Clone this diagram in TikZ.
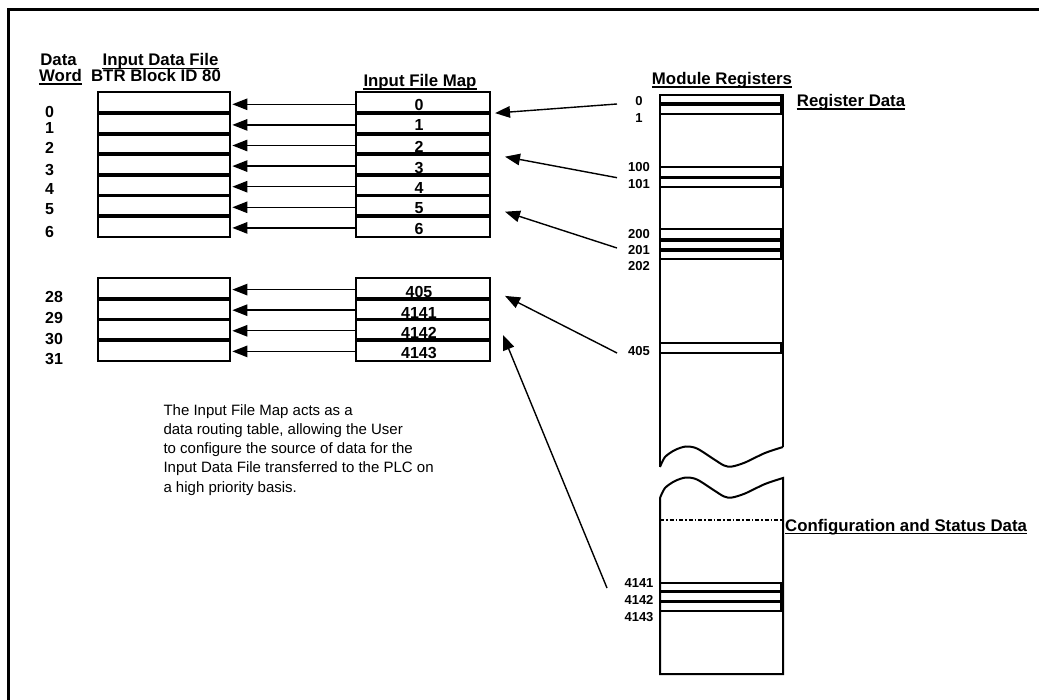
\documentclass[tikz,border=0pt]{standalone}
\usepackage{fontspec}
\setmainfont{Liberation Sans}
\usetikzlibrary{arrows.meta,calc}
\begin{document}
\begin{tikzpicture}[x=1pt,y=-1pt,
  rowbox/.style={draw, line width=2pt, minimum width=132pt, minimum height=20.6pt, inner sep=0pt, outer sep=0pt},
  mapbox/.style={rowbox, minimum width=134pt},
  divider/.style={line width=3.8pt},
  regdiv/.style={line width=3.4pt},
  arr/.style={line width=1.4pt, -{Triangle[length=15pt,width=11.5pt]}},
  hdr/.style={font=\fontsize{16.8}{20}\selectfont\bfseries, inner sep=0pt},
  ul/.style={line width=1.5pt},
  num/.style={font=\fontsize{16}{18}\selectfont\bfseries, inner sep=0pt},
  regnum/.style={font=\fontsize{13}{15}\selectfont\bfseries, inner sep=0pt},
  regbox/.style={draw, line width=1.8pt, minimum width=123pt, inner sep=0pt, outer sep=0pt},
  col/.style={line width=2pt},
]
\useasboundingbox (0,0) rectangle (1039,700);
% frame
\draw[line width=2.2pt] (8.5,700) -- (8.5,9.5) -- (1039,9.5);

% headers
\node[hdr, anchor=base] (hData) at (58.5,66) {Data};
\node[hdr, anchor=base] (hWord) at (60.5,81.5) {Word};
\node[hdr, anchor=base] (hIDF) at (160.5,66) {Input Data File};
\node[hdr, anchor=base] (hBTR) at (156,81.5) {BTR Block ID 80};
\node[hdr, anchor=base] (hMap) at (420,86.5) {Input File Map};
\node[hdr, anchor=base] (hMod) at (722,84.5) {Module Registers};
\node[hdr, anchor=base west] (hReg) at (796.7,106.5) {Register Data};
\node[hdr, anchor=base west] (hCfg) at (785,531) {Configuration and Status Data};
\foreach \n in {hWord,hIDF,hMap,hMod,hReg,hCfg} {
  \draw[ul] ([yshift=-2.6pt]\n.base west) -- ([yshift=-2.6pt]\n.base east);
}

% input data file rows and map rows (upper group)
\foreach \i in {0,...,6} {
  \node[rowbox] (idf\i) at (163.9,{92.5+20.6*(\i+0.5)}) {};
  \node[mapbox] (map\i) at (423,{92.5+20.6*(\i+0.5)}) {};
}
\foreach \i in {0,...,5} {
  \draw[divider] (idf\i.south west) -- (idf\i.south east);
  \draw[divider] (map\i.south west) -- (map\i.south east);
}
% lower group
\foreach \i in {0,...,3} {
  \node[rowbox] (idfb\i) at (163.9,{278.3+20.6*(\i+0.5)}) {};
  \node[mapbox] (mapb\i) at (423,{278.3+20.6*(\i+0.5)}) {};
}
\foreach \i in {0,...,2} {
  \draw[divider] (idfb\i.south west) -- (idfb\i.south east);
  \draw[divider] (mapb\i.south west) -- (mapb\i.south east);
}

% data word labels
\foreach \t/\y [count=\k] in {0/111.5,1/128,2/148,3/170,4/189,5/209,6/232,28/297,29/317.5,30/339,31/359} {
  \node[num, anchor=west] (dw\k) at (45,\y) {\t};
}
% map labels
\foreach \t/\y [count=\k] in {0/105,1/125,2/146.7,3/168,4/188,5/208,6/229,405/291.7,4141/312.7,4142/333,4143/353} {
  \node[num] (ml\k) at (419,\y) {\t};
}

% horizontal arrows
\foreach \i in {0,...,6} {
  \draw[arr] ([yshift=-1.5pt]map\i.west) -- ([xshift=2.5pt,yshift=-1.5pt]idf\i.east);
}
\foreach \i in {0,...,3} {
  \draw[arr] ([yshift=-1pt]mapb\i.west) -- ([xshift=2.5pt,yshift=-1pt]idfb\i.east);
}

% module registers column
\draw[col] (660,467) -- (660,95) -- (783,95) -- (783,447);
\draw[col] plot[smooth] coordinates {(660,467) (665,457) (675,450) (686,446.5) (697,448.5) (712,458) (724,465.5) (732,466.5) (745,462.5) (765,453) (783,447)};
\draw[col] plot[smooth] coordinates {(660,498) (665,488) (675,481) (686,477.5) (697,479.5) (712,489) (724,496.5) (732,497.5) (745,493.5) (765,484) (783,478)} -- (783,674) -- (660,674) -- (660,498);
\draw[line width=1.2pt, dash pattern=on 4pt off 2pt on 1.5pt off 2pt] (660,520) -- (783,520);

% register groups
\node[regbox, minimum height=9pt] (r0) at (721.5,99.5) {};
\node[regbox, minimum height=10pt] (r1) at (721.5,109) {};
\draw[regdiv] (r0.south west) -- (r0.south east);
\draw[regdiv] ([xshift=-1.7pt]r0.north east) -- ([xshift=-1.7pt]r1.south east);

\node[regbox, minimum height=10.4pt] (r100) at (721.5,172.5) {};
\node[regbox, minimum height=9pt] (r101) at (721.5,182.2) {};
\draw[regdiv] (r100.south west) -- (r100.south east);
\draw[regdiv] ([xshift=-1.7pt]r100.north east) -- ([xshift=-1.7pt]r101.south east);

\node[regbox, minimum height=11pt] (r200) at (721.5,234.5) {};
\node[regbox, minimum height=10pt] (r201) at (721.5,245) {};
\node[regbox, minimum height=9pt] (r202) at (721.5,254.5) {};
\draw[regdiv] (r200.south west) -- (r200.south east);
\draw[regdiv] (r201.south west) -- (r201.south east);
\draw[regdiv] ([xshift=-1.7pt]r200.north east) -- ([xshift=-1.7pt]r202.south east);

\node[regbox, minimum height=10pt] (r405) at (721.5,347.7) {};
\draw[regdiv] ([xshift=-1.7pt]r405.north east) -- ([xshift=-1.7pt]r405.south east);

\node[regbox, minimum height=9pt] (r4141) at (721.5,587.2) {};
\node[regbox, minimum height=10pt] (r4142) at (721.5,596.7) {};
\node[regbox, minimum height=9pt] (r4143) at (721.5,606.2) {};
\draw[regdiv] (r4141.south west) -- (r4141.south east);
\draw[regdiv] (r4142.south west) -- (r4142.south east);
\draw[regdiv] ([xshift=-1.7pt]r4141.north east) -- ([xshift=-1.7pt]r4143.south east);

% register labels
\foreach \t/\y [count=\k] in {0/100.7,1/118.3,100/166.7,101/184.3,200/234.3,201/250,202/266,405/350.7,4141/583,4142/600,4143/617} {
  \node[regnum] (rl\k) at (639,\y) {\t};
}

% arrows from registers to map
\coordinate (t0) at (617,104);
\coordinate (t1) at (617,177.7);
\coordinate (t2) at (617,248);
\coordinate (t3) at (617,353);
\coordinate (t4) at (607,588);
\draw[arr] (t0) -- ([xshift=5pt]map0.south east);
\draw[arr] (t1) -- ([xshift=15pt,yshift=-2.4pt]map3.north east);
\draw[arr] (t2) -- ([xshift=15pt,yshift=-5.9pt]map5.east);
\draw[arr] (t3) -- ([xshift=15pt,yshift=3pt]mapb0.south east);
\draw[arr] (t4) -- ([xshift=13pt,yshift=-5.2pt]mapb2.east);

% paragraph
\node[anchor=north west, align=left, inner sep=0pt, font=\fontsize{15}{19.3}\selectfont] (para) at (163.3,404) {The Input File Map acts as a\\data routing table, allowing the User\\to configure the source of data for the\\Input Data File transferred to the PLC on\\a high priority basis.};
\end{tikzpicture}
\end{document}
